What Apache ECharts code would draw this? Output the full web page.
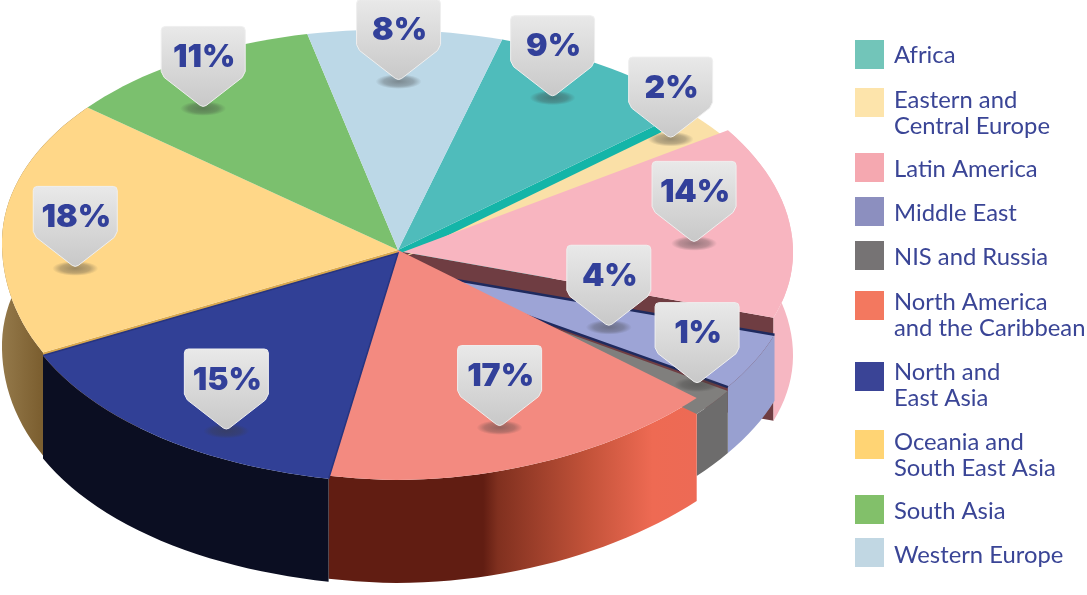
<!DOCTYPE html>
<html>
<head>
<meta charset="utf-8">
<style>
  html, body { margin: 0; padding: 0; background: #fff; }
  #chart { width: 1087px; height: 595px; }
</style>
</head>
<body>
<div id="chart"></div>
<script src="https://cdn.jsdelivr.net/npm/echarts@6/dist/echarts.min.js"></script>
<script>
// chart data
const categories = ['Africa', 'Eastern and\nCentral Europe', 'Latin America', 'Middle East', 'NIS and Russia',
  'North America\nand the Caribbean', 'North and\nEast Asia', 'Oceania and\nSouth East Asia', 'South Asia', 'Western Europe']
const shares = [9, 2, 14, 4, 1, 17, 15, 18, 11, 8]
const tickLabels = ['9%', '2%', '14%', '4%', '1%', '17%', '15%', '18%', '11%', '8%']

// colours
const topColors = ['#4fbcbb', '#fae0a7', '#f8b5c0', '#9da4d6', '#807f7d', '#f38a80', '#314096', '#ffd788', '#7bc06e', '#bcd8e7']
const faceColors = ['#14b5a8', null, '#6f3d42', null, null, null, null, '#d9a94f', null, null]
const wallColors = [null, null, '#f6b7c2', '#98a0d0', '#6d6c6c', null, '#0b0e22', null, null, null]
const swatchColors = ['#72c5b9', '#fde4ab', '#f5a8b0', '#8c8fbf', '#767374', '#f3785f', '#3a4496', '#ffd474', '#82c06a', '#c1d7e3']
const wallGradients = {
  5: [[0, '#611d12'], [0.42, '#611d12'], [0.46, '#80301f'], [0.7, '#c25239'], [0.88, '#ee6a53'], [1, '#ed6a55']],
  7: [[0, '#94794a'], [0.45, '#7c5f30'], [1, '#7c5f30']]
}

// layout of the tilted pie
const cx = 398
const cy = 250
const startAngle = 16
const sliceShift = [[0, 0], [3, 8], [-1, -5], [0, 12], [0, 16], [0, 0], [0, 3], [0, 0], [0, 0], [0, 0]]
const apexShift = [[0, 0], [3, 8], [5, 2], [0, 20], [0, 22], [0, 0], [0, 3], [0, 0], [0, 0], [0, 0]]
const wallDepth = [103, 103, 103, 66, 62, 103, 103, 103, 103, 103]
const edgeNudge = [-1.5, 0, 0.5, 1.5, 5.3, 2.5, -0.8, 0.8, -0.8, -1.4]
const pinRadius = [0.81, 0.87, 0.75, 0.63, 0.96, 0.815, 0.895, 0.82, 0.8, 0.77]
const pinTurn = [-4.2, -0.7, 3.3, 7.5, 4.2, 5, -6.5, -12.3, -5.5, -2]
const swatchTops = [40, 88, 153, 197, 241, 291, 362, 430, 495, 538]
const legendCenters = [55.5, 113, 169.5, 213.5, 257.5, 315, 385, 455, 511.5, 555.5]

const total = shares.reduce((a, b) => a + b, 0)
const edges = [startAngle]
shares.forEach((v, i) => edges.push(edges[i] + v / total * 360))

function rimPoint(deg, shift, r) {
  const a = deg * Math.PI / 180
  const s = Math.sin(a)
  const c = Math.cos(a)
  const k = r === undefined ? 1 : r
  // the lower half of the rim is a bit deeper, flatter on the right and fuller on the left
  const tilt = c < 0 && s > 0 ? 10 * s * (1 + c) : 10 * s
  const ry = c < 0 ? 220 + 10 * c * c : 220
  const bulge = c < 0 && s < 0 ? 1 + 0.12 * s * s * c * c : 1
  return [
    cx + k * bulge * (396 * s + 4.5 * c) + shift[0],
    cy + k * bulge * (tilt - ry * c) + shift[1]
  ]
}

function rimArc(i) {
  const from = edges[i] + edgeNudge[(i + 9) % 10]
  const to = edges[i + 1] + edgeNudge[i]
  const pts = []
  const n = Math.max(2, Math.ceil((to - from) / 2))
  for (let k = 0; k <= n; k++) {
    pts.push(rimPoint(from + (to - from) * k / n, sliceShift[i]))
  }
  return pts
}

function wallFill(i) {
  if (wallGradients[i]) {
    return {
      type: 'linear', x: 0, y: 0, x2: 1, y2: 0,
      colorStops: wallGradients[i].map(s => ({ offset: s[0], color: s[1] }))
    }
  }
  return wallColors[i]
}

function renderSlice(params, api) {
  const i = api.value(1)
  const apex = [cx + apexShift[i][0], cy + apexShift[i][1]]
  const arc = rimArc(i)
  const last = arc[arc.length - 1]
  const depth = wallDepth[i]
  const recessed = apexShift[i][1] > 5
  const children = []

  // cut face, seen where the neighbour slice sits lower
  if (faceColors[i]) {
    const edge = i === 7 ? arc[0] : last
    children.push({
      type: 'polygon', z2: 0,
      shape: { points: [apex, edge, [edge[0], edge[1] + depth], [apex[0], apex[1] + depth]] },
      style: { fill: faceColors[i] }
    })
  }
  // outer wall, only the slices at the front show one
  const fill = wallFill(i)
  if (fill) {
    const bottom = arc.map(p => [p[0], p[1] + depth]).reverse()
    children.push({
      type: 'polygon', z2: 1,
      shape: { points: arc.concat(bottom) },
      style: { fill: fill }
    })
  }
  // top
  children.push({
    type: 'polygon', z2: recessed ? 3 : 4,
    shape: { points: [apex].concat(arc) },
    style: { fill: topColors[i] }
  })
  if (i === 3 || i === 6) {
    children.push({
      type: 'polyline', z2: recessed ? 3 : 4,
      shape: { points: [arc[0], apex, last] },
      style: { stroke: i === 3 ? '#1f2a5e' : '#27347f', lineWidth: i === 3 ? 2.5 : 1.5, fill: null }
    })
  }

  // callout pin
  const mid = (edges[i] + edges[i + 1]) / 2 + pinTurn[i]
  const tip = rimPoint(mid, [0, 0], pinRadius[i])
  const outline = [[-38, -81], [-41, -80], [-42, -77], [-42, -36], [-39, -30], [-3, -2], [0, -1], [3, -2],
    [39, -30], [42, -36], [42, -77], [41, -80], [38, -81]]
  children.push({
    type: 'circle', z2: 5,
    x: tip[0],
    y: tip[1] + 1,
    scaleY: 0.32,
    shape: { cx: 0, cy: 0, r: 23 },
    style: {
      fill: {
        type: 'radial', x: 0.5, y: 0.5, r: 0.5,
        colorStops: [
          { offset: 0, color: 'rgba(60,60,60,0.5)' },
          { offset: 0.65, color: 'rgba(60,60,60,0.32)' },
          { offset: 1, color: 'rgba(60,60,60,0)' }
        ]
      }
    }
  })
  children.push({
    type: 'polygon', z2: 6,
    shape: { points: outline.map(p => [tip[0] + p[0], tip[1] + p[1]]) },
    style: {
      stroke: '#efefef',
      lineWidth: 1,
      fill: {
        type: 'linear', x: 0, y: 0, x2: 0, y2: 1,
        colorStops: [
          { offset: 0, color: '#e9e9e9' },
          { offset: 1, color: '#c8c8c8' }
        ]
      }
    }
  })
  children.push({
    type: 'text', z2: 7,
    style: {
      text: tickLabels[i],
      x: tip[0] + 1,
      y: tip[1] - 50,
      fill: '#32409a',
      font: '900 32px Inter',
      align: 'center',
      verticalAlign: 'middle'
    }
  })
  return { type: 'group', children: children }
}

// legend rows
const legendItems = []
categories.forEach((name, i) => {
  legendItems.push({
    type: 'rect',
    shape: { x: 855, y: swatchTops[i], width: 29, height: 29 },
    style: { fill: swatchColors[i] }
  })
  legendItems.push({
    type: 'text',
    x: 894,
    y: legendCenters[i],
    style: {
      text: name,
      fill: '#3a4596',
      font: '23.8px Lato',
      lineHeight: 26,
      align: 'left',
      verticalAlign: 'middle'
    }
  })
})

const chart = echarts.init(document.getElementById('chart'))
chart.setOption({
  animation: false,
  backgroundColor: '#fff',
  graphic: { elements: legendItems },
  series: [{
    type: 'custom',
    coordinateSystem: 'none',
    silent: true,
    renderItem: renderSlice,
    data: shares.map((v, i) => [v, i])
  }]
})
</script>
</body>
</html>
